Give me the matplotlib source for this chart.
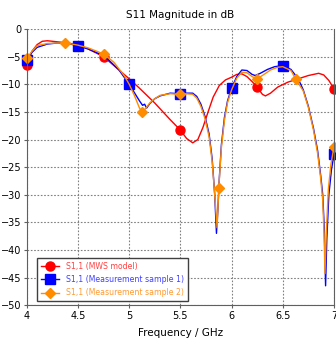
import matplotlib
matplotlib.use('agg')
import matplotlib.pyplot as plt
import numpy as np

# S1,1 (MWS model)
f_mws = [4.0, 4.05, 4.1, 4.15, 4.2, 4.3, 4.4, 4.5, 4.6, 4.75, 4.9, 5.0, 5.1, 5.25, 5.4, 5.5,
         5.56, 5.62, 5.67, 5.72, 5.77, 5.82, 5.88, 5.94, 6.0, 6.05, 6.1, 6.15, 6.2, 6.25,
         6.3, 6.33, 6.38, 6.45, 6.55, 6.65, 6.75, 6.85, 6.9, 6.95, 7.0]
s_mws = [-6.5, -4.0, -2.8, -2.2, -2.1, -2.3, -2.5, -2.9, -3.6, -5.0, -7.4, -9.0, -10.7, -13.4, -16.4, -18.3,
         -19.8, -20.6, -20.0, -17.8, -15.0, -12.3, -10.2, -9.2, -8.7, -8.2, -8.1, -8.6, -9.5, -10.5,
         -11.8, -12.1, -11.6, -10.5, -9.6, -9.0, -8.4, -8.0, -8.3, -9.3, -10.8]
mk_mws = [4.0, 4.75, 5.5, 6.25, 7.0]

# S1,1 (Measurement sample 1)
f_m1 = [4.0, 4.05, 4.1, 4.2, 4.3, 4.4, 4.5, 4.6, 4.7, 4.8, 4.9, 5.0, 5.05, 5.1, 5.13, 5.15, 5.17,
        5.2, 5.25, 5.3, 5.4, 5.5, 5.55, 5.62, 5.66, 5.7, 5.74, 5.78, 5.81, 5.835, 5.852, 5.865,
        5.88, 5.9, 5.93, 5.96, 6.0, 6.05, 6.1, 6.15, 6.2, 6.23, 6.28, 6.35, 6.42, 6.5, 6.58,
        6.65, 6.7, 6.75, 6.8, 6.84, 6.87, 6.89, 6.905, 6.918, 6.93, 6.95, 6.975, 7.0]
s_m1 = [-5.5, -4.2, -3.3, -2.7, -2.5, -2.6, -3.0, -3.6, -4.4, -5.6, -7.4, -10.0, -11.5, -13.0, -13.8, -13.6, -14.3,
        -13.5, -12.6, -12.1, -11.6, -11.7, -11.6, -11.6, -12.2, -13.6, -15.8, -19.0, -23.5, -30.0, -37.0, -33.0,
        -27.0, -21.0, -16.0, -13.0, -10.7, -8.6, -7.4, -7.5, -8.2, -8.4, -8.0, -7.3, -6.8, -6.6, -7.3,
        -9.0, -11.0, -14.0, -18.0, -22.0, -26.5, -30.0, -36.0, -46.5, -38.0, -30.0, -25.5, -22.7]
mk_m1 = [4.0, 4.5, 5.0, 5.5, 6.0, 6.5, 7.0]

# S1,1 (Measurement sample 2)
f_m2 = [4.0, 4.05, 4.1, 4.2, 4.3, 4.375, 4.5, 4.6, 4.75, 4.85, 4.95, 5.0, 5.05, 5.1, 5.125, 5.15,
        5.2, 5.25, 5.3, 5.4, 5.5, 5.55, 5.62, 5.66, 5.7, 5.74, 5.78, 5.81, 5.835, 5.858, 5.865,
        5.875, 5.9, 5.93, 5.96, 6.0, 6.05, 6.1, 6.15, 6.2, 6.25, 6.3, 6.38, 6.45, 6.5, 6.58,
        6.625, 6.7, 6.75, 6.8, 6.84, 6.87, 6.89, 6.903, 6.912, 6.925, 6.945, 6.97, 7.0]
s_m2 = [-5.3, -4.0, -3.0, -2.6, -2.5, -2.5, -2.9, -3.4, -4.5, -6.0, -8.4, -10.0, -12.0, -14.3, -15.0, -14.6,
        -13.4, -12.6, -12.0, -11.7, -11.8, -11.7, -11.8, -12.5, -14.0, -16.2, -19.5, -24.0, -30.0, -36.0, -33.0,
        -28.7, -21.5, -16.5, -13.3, -11.0, -8.9, -7.8, -7.9, -8.6, -9.0, -8.4, -7.4, -6.9, -6.8, -7.5,
        -9.0, -11.2, -14.2, -18.3, -22.5, -27.0, -31.0, -37.0, -44.3, -37.0, -29.0, -24.5, -21.3]
mk_m2 = [4.0, 4.375, 4.75, 5.125, 5.5, 5.875, 6.25, 6.625, 7.0]

labels = ['S1,1 (MWS model)', 'S1,1 (Measurement sample 1)', 'S1,1 (Measurement sample 2)']
colors = ['#ff0000', '#0000ff', '#ff8c00']
text_colors = ['#ff4040', '#4040ff', '#ff9a30']

fig = plt.figure(figsize=(3.36, 3.39), dpi=100)
ax = fig.add_axes([0.080, 0.100, 0.914, 0.814])

series = [(f_mws, s_mws, mk_mws, 'o'), (f_m1, s_m1, mk_m1, 's'), (f_m2, s_m2, mk_m2, 'D')]
for (f, s, mk, m), c, lab in zip(series, colors, labels):
    idx = [i for i, x in enumerate(f) if any(abs(x - v) < 1e-9 for v in mk)]
    ax.plot(f, s, color=c, lw=1.0, marker=m, markevery=idx,
            ms=6.5 if m != 'D' else 5.5, mec=c, mfc=c, label=lab, clip_on=False)

ax.set_xlim(4, 7)
ax.set_ylim(-50, 0)
ax.set_xticks(np.arange(4, 7.01, 0.5))
ax.set_xticklabels(['4', '4.5', '5', '5.5', '6', '6.5', '7'])
ax.set_yticks(np.arange(-50, 0.1, 5))
ax.grid(True, color='#808080', ls=(0, (1.5, 1.5)), lw=0.8)
ax.tick_params(labelsize=7, length=2.5, color='#606060', pad=1.5)
for sp in ['left', 'bottom', 'right']:
    ax.spines[sp].set_color('#606060')
ax.spines['top'].set_visible(False)

ax.set_title('S11 Magnitude in dB', fontsize=7.5, pad=8)
ax.set_xlabel('Frequency / GHz', fontsize=7.5, labelpad=5)

leg = ax.legend(loc='lower left', bbox_to_anchor=(0.02, 0.0), fontsize=5.6,
                fancybox=False, edgecolor='#404040', framealpha=1,
                handlelength=2.4, borderpad=0.5, labelspacing=0.55)
leg.get_frame().set_linewidth(1.0)
for t, c in zip(leg.get_texts(), text_colors):
    t.set_color(c)

fig.savefig('out.png', dpi=100)
